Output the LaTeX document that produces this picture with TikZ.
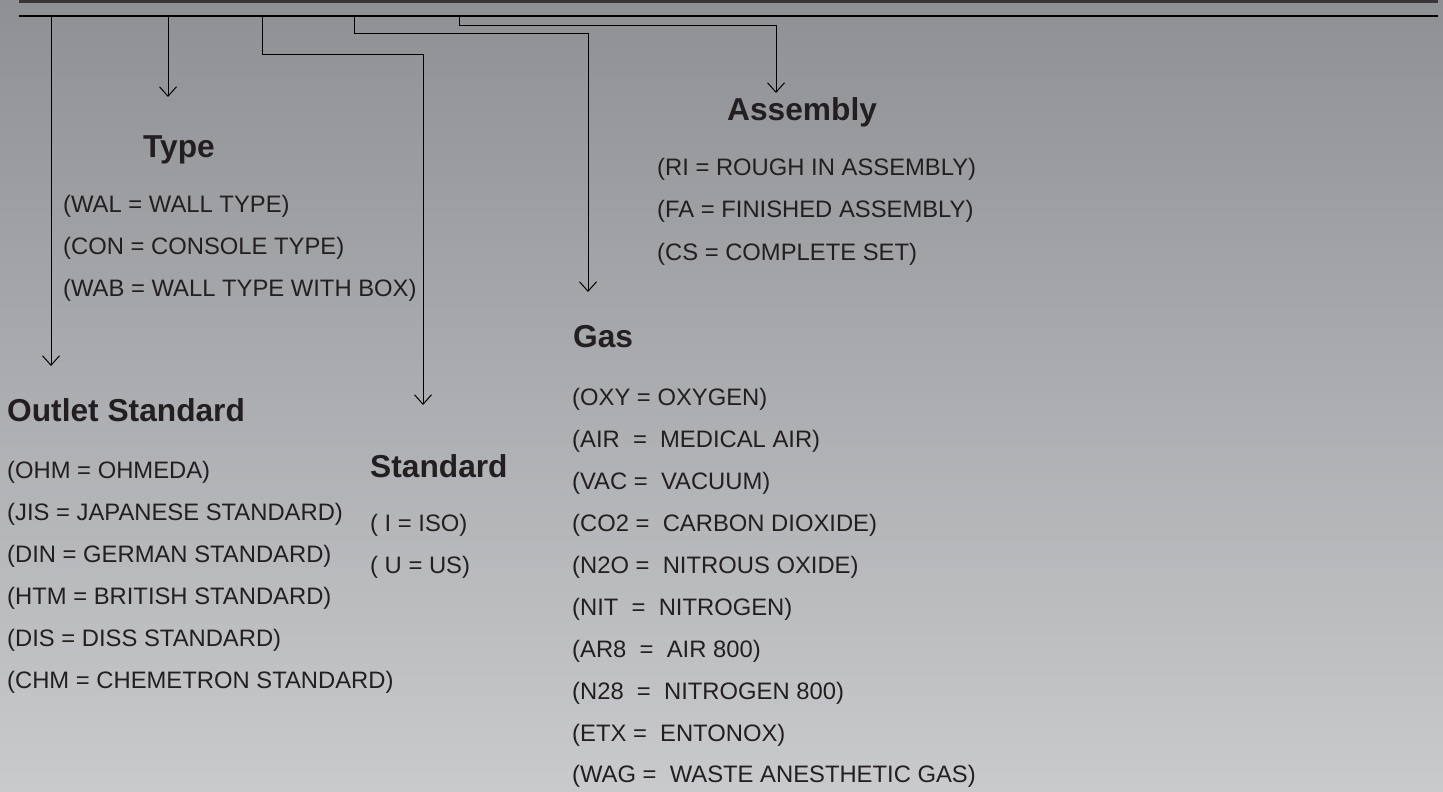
\documentclass[tikz,border=0pt]{standalone}
\usepackage{fontspec}
\setmainfont{Liberation Sans}
\usetikzlibrary{arrows.meta}
\definecolor{ink}{HTML}{231F20}
\definecolor{bgtop}{HTML}{8F9094}
\definecolor{bgbot}{HTML}{C9CACC}
\begin{document}
\begin{tikzpicture}[x=1pt,y=-1pt,
  item/.style={anchor=base west,inner sep=0pt,text=ink,font=\fontsize{23.8}{28}\selectfont},
  head/.style={anchor=base west,inner sep=0pt,text=ink,font=\fontsize{31.7}{36}\selectfont\bfseries},
  branch/.style={draw=black,line width=1pt},
  tip/.style={-{Straight Barb[length=9.5pt,width=17pt,line width=1pt]}}]
\useasboundingbox (0,0) rectangle (1443,792);
\shade[top color=bgtop,bottom color=bgbot] (0,0) rectangle (1443,792);
% top rules
\coordinate (rA) at (19,2);
\coordinate (rB) at (1438,2);
\coordinate (rC) at (19,16);
\coordinate (rD) at (1438,16);
\draw[line width=3pt,draw=ink!90] (rA) -- (rB);
\draw[line width=1.5pt,draw=black] (rC) -- (rD);
% branch coordinates
\coordinate (o0) at (51,16);  \coordinate (o1) at (51,366);
\coordinate (t0) at (168,16); \coordinate (t1) at (168,97);
\coordinate (s0) at (262,16); \coordinate (s1) at (262,55); \coordinate (s2) at (423,55); \coordinate (s3) at (423,405);
\coordinate (g0) at (354,16); \coordinate (g1) at (354,34); \coordinate (g2) at (588,34); \coordinate (g3) at (588,292);
\coordinate (a0) at (459,16); \coordinate (a1) at (459,26); \coordinate (a2) at (776,26); \coordinate (a3) at (776,93);
\draw[branch,tip] (o0) -- (o1);
\draw[branch,tip] (t0) -- (t1);
\draw[branch,tip] (s0) -- (s1) -- (s2) -- (s3);
\draw[branch,tip] (g0) -- (g1) -- (g2) -- (g3);
\draw[branch,tip] (a0) -- (a1) -- (a2) -- (a3);
% Type
\node[head] (typeH) at (143,157) {Type};
\node[item] (type1) at (63,212) {(WAL = WALL TYPE)};
\node[item] (type2) at (63,254) {(CON = CONSOLE TYPE)};
\node[item] (type3) at (63,296) {(WAB = WALL TYPE WITH BOX)};
% Assembly
\node[head] (asmH) at (727,121) {Assembly};
\node[item] (asm1) at (657,175) {(RI = ROUGH IN ASSEMBLY)};
\node[item] (asm2) at (657,217) {(FA = FINISHED ASSEMBLY)};
\node[item] (asm3) at (657,260) {(CS = COMPLETE SET)};
% Outlet Standard
\node[head] (outH) at (7,421) {Outlet Standard};
\node[item] (out1) at (7,478) {(OHM = OHMEDA)};
\node[item] (out2) at (7,520) {(JIS = JAPANESE STANDARD)};
\node[item] (out3) at (7,562) {(DIN = GERMAN STANDARD)};
\node[item] (out4) at (7,604) {(HTM = BRITISH STANDARD)};
\node[item] (out5) at (7,646) {(DIS = DISS STANDARD)};
\node[item] (out6) at (7,688) {(CHM = CHEMETRON STANDARD)};
% Standard
\node[head] (stdH) at (370,477) {Standard};
\node[item] (std1) at (370,531) {( I = ISO)};
\node[item] (std2) at (370,573) {( U = US)};
% Gas
\node[head] (gasH) at (573,347) {Gas};
\node[item] (gas1) at (572,405) {(OXY = OXYGEN)};
\node[item] (gas2) at (572,447) {(AIR~~=~~MEDICAL AIR)};
\node[item] (gas3) at (572,489) {(VAC =~~VACUUM)};
\node[item] (gas4) at (572,531) {(CO2 =~~CARBON DIOXIDE)};
\node[item] (gas5) at (572,573) {(N2O =~~NITROUS OXIDE)};
\node[item] (gas6) at (572,615) {(NIT~~=~~NITROGEN)};
\node[item] (gas7) at (572,657) {(AR8~~=~~AIR 800)};
\node[item] (gas8) at (572,699) {(N28~~=~~NITROGEN 800)};
\node[item] (gas9) at (572,741) {(ETX =~~ENTONOX)};
\node[item] (gas10) at (572,782) {(WAG =~~WASTE ANESTHETIC GAS)};
\end{tikzpicture}
\end{document}
